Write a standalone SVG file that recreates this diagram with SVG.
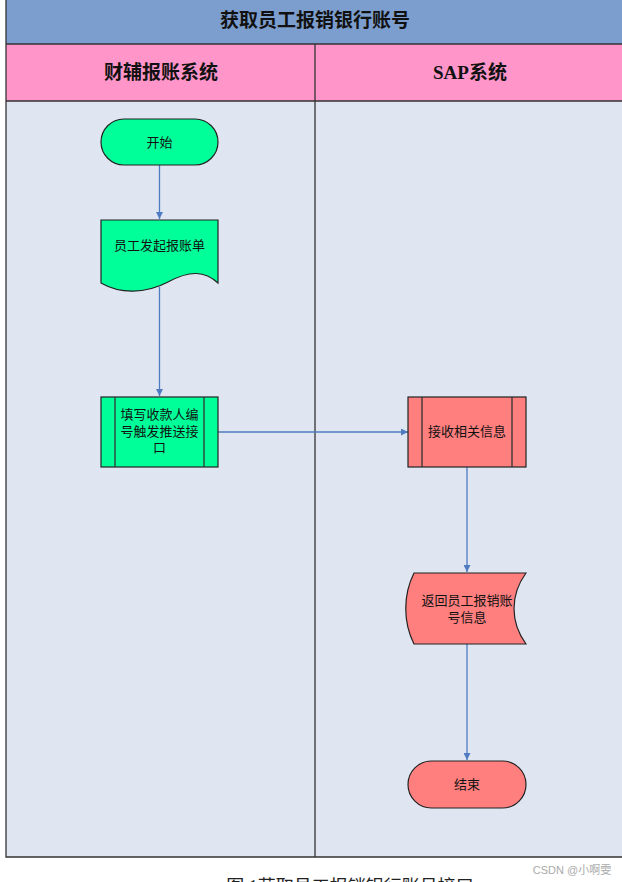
<svg xmlns="http://www.w3.org/2000/svg" width="622" height="882" viewBox="0 0 622 882">
<defs>
<style>
.hd{font-family:"Liberation Serif","Noto Sans CJK SC",serif;font-weight:bold;font-size:19px;fill:#111;text-anchor:middle}
.t{font-family:"Liberation Sans","Noto Sans CJK SC",sans-serif;font-size:13px;fill:#111;text-anchor:middle}
.g{fill:#00FF99;stroke:#222;stroke-width:1.2}
.r{fill:#FF7F7F;stroke:#222;stroke-width:1.2}
.ln{stroke:#333;stroke-width:1.3;fill:none}
.c{stroke:#4F7CC0;stroke-width:1.3;fill:none;marker-end:url(#ah)}
</style>
<marker id="ah" viewBox="0 0 10 10" refX="10" refY="5" markerWidth="7" markerHeight="7" markerUnits="userSpaceOnUse" orient="auto"><path d="M0,0L10,5L0,10z" fill="#4F7CC0"/></marker>
</defs>
<rect width="622" height="882" fill="#fff"/>
<g id="pool">
<rect x="6" y="0" width="620" height="44" fill="#7C9ECE"/>
<rect x="6" y="44" width="620" height="57" fill="#FF95C9"/>
<rect x="6" y="101" width="620" height="756" fill="#DFE6F2"/>
<path class="ln" d="M6,0V857H626M6,44H626M6,101H626M315,44V857"/>
<text class="hd" x="315" y="27">获取员工报销银行账号</text>
<text class="hd" x="161" y="79">财辅报账系统</text>
<text class="hd" x="470" y="79">SAP系统</text>
</g>
<g id="connectors">
<path class="c" d="M159.5,165V219"/>
<path class="c" d="M159.5,287V396"/>
<path class="c" d="M218,432H408"/>
<path class="c" d="M467,467V572"/>
<path class="c" d="M467,644V760"/>
</g>
<g id="start">
<rect class="g" x="101" y="119" width="117" height="46" rx="23"/>
<text class="t" x="159.5" y="147">开始</text>
</g>
<g id="doc">
<path class="g" d="M101,220H218V283C205,271 190,270 168,282C145,294 120,294 101,283Z"/>
<text class="t" x="159.5" y="250">员工发起报账单</text>
</g>
<g id="fill">
<rect class="g" x="101" y="397" width="117" height="70"/>
<path class="ln" d="M115,397V467M204,397V467"/>
<text class="t" x="159.5" y="419">填写收款人编</text>
<text class="t" x="159.5" y="436">号触发推送接</text>
<text class="t" x="159.5" y="452">口</text>
</g>
<g id="receive">
<rect class="r" x="408" y="397" width="118" height="70"/>
<path class="ln" d="M422,397V467M512,397V467"/>
<text class="t" x="467" y="436">接收相关信息</text>
</g>
<g id="return">
<path class="r" d="M414,573H526C510,595 510,622 526,644H414C403,622 403,595 414,573Z"/>
<text class="t" x="467" y="605">返回员工报销账</text>
<text class="t" x="467" y="622">号信息</text>
</g>
<g id="end">
<rect class="r" x="408" y="761" width="118" height="47" rx="23.5"/>
<text class="t" x="467" y="789">结束</text>
</g>
<text x="572" y="874" font-family="Liberation Sans,Noto Sans CJK SC,sans-serif" font-size="11" fill="#aaa" text-anchor="middle">CSDN @小啊雯</text>
<text x="350" y="893" font-family="Liberation Serif,Noto Sans CJK SC,serif" font-size="18" fill="#222" text-anchor="middle">图 1获取员工报销银行账号接口</text>
</svg>
